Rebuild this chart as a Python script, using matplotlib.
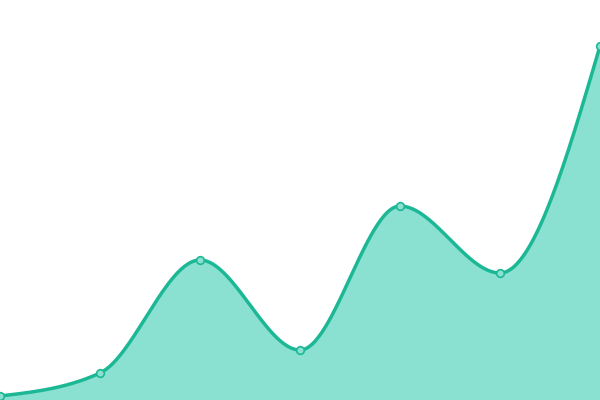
import numpy as np
import matplotlib
matplotlib.use("Agg")
import matplotlib.pyplot as plt

x_vals = [0, 1, 2, 3, 4, 5, 6]
y_vals = [4, 27, 140, 50, 194, 127, 354]

LINE = "#1cb896"
FILL = "#8ae0d1"


def monotone_x(xs, ys, n=60):
    xs = np.asarray(xs, float); ys = np.asarray(ys, float)
    h = np.diff(xs); s = np.diff(ys) / h
    m = np.zeros(len(xs))
    for i in range(1, len(xs) - 1):
        h0, h1 = h[i - 1], h[i]
        s0, s1 = s[i - 1], s[i]
        p = (s0 * h1 + s1 * h0) / (h0 + h1)
        m[i] = (np.sign(s0) + np.sign(s1)) * min(abs(s0), abs(s1), 0.5 * abs(p))
    m[0] = (3 * s[0] - m[1]) / 2 if h[0] else 0
    m[-1] = (3 * s[-1] - m[-2]) / 2
    X, Y = [], []
    for i in range(len(xs) - 1):
        t = np.linspace(0, 1, n)
        x0, x1, y0, y1 = xs[i], xs[i + 1], ys[i], ys[i + 1]
        dx = x1 - x0
        h00 = 2 * t**3 - 3 * t**2 + 1
        h10 = t**3 - 2 * t**2 + t
        h01 = -2 * t**3 + 3 * t**2
        h11 = t**3 - t**2
        X.append(x0 + t * dx)
        Y.append(h00 * y0 + h10 * dx * m[i] + h01 * y1 + h11 * dx * m[i + 1])
    return np.concatenate(X), np.concatenate(Y)


cx, cy = monotone_x(x_vals, y_vals)

fig = plt.figure(figsize=(6, 4), dpi=100)
ax = fig.add_axes([0, 0, 1, 1])
ax.fill_between(cx, cy, 0, color=FILL, linewidth=0)
ax.plot(cx, cy, color=LINE, linewidth=2.5, solid_capstyle="round")
ax.plot(x_vals, y_vals, "o", markersize=5.5, markerfacecolor=FILL,
        markeredgecolor=LINE, markeredgewidth=1.2, clip_on=False)
ax.set_xlim(0, 6)
ax.set_ylim(0, 400)
ax.axis("off")
fig.savefig("out.png", dpi=100)
